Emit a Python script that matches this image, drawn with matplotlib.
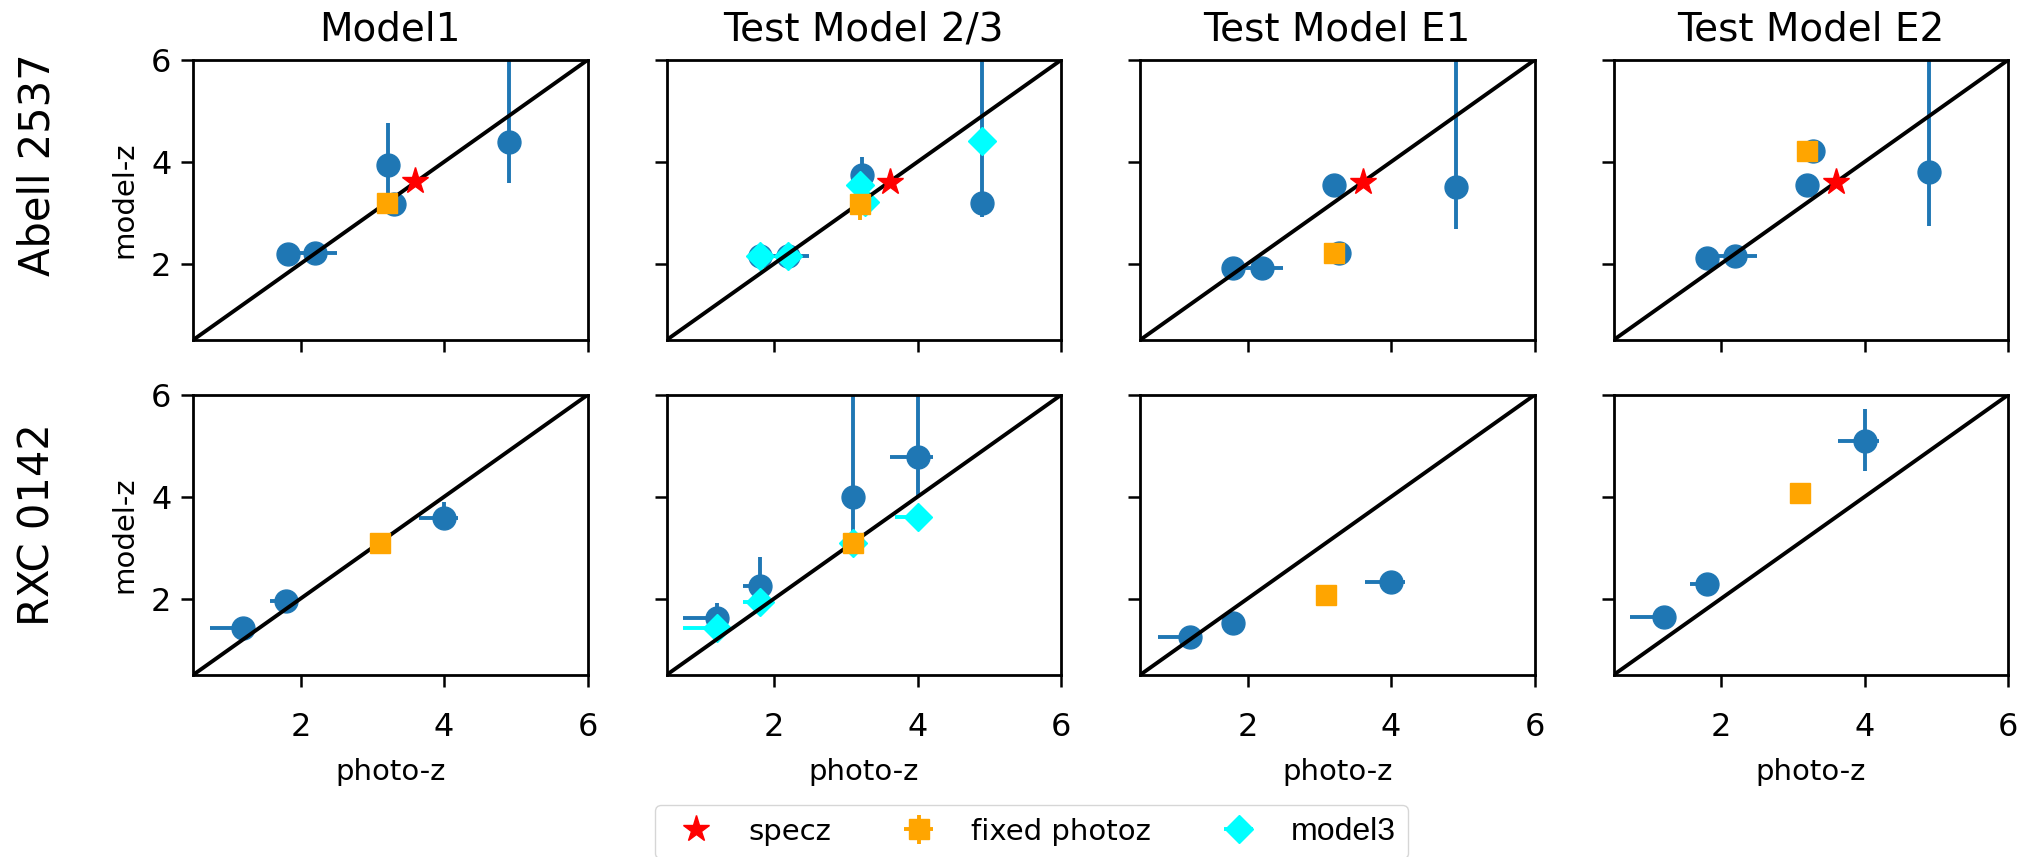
import matplotlib
matplotlib.use("Agg")
import matplotlib.pyplot as plt

models = ["Model1", "Test Model 2/3", "Test Model E1", "Test Model E2"]
clusters = ["Abell 2537", "RXC 0142"]

# puntos azules (photo-z vs model-z) por panel [fila][columna]
blue_x = [
    [[1.82, 2.2, 3.22, 3.3, 4.9], [1.81, 2.2, 3.23, 4.9], [1.79, 2.2, 3.2, 3.28, 4.9], [1.8, 2.2, 3.19, 3.28, 4.9]],
    [[1.2, 1.8, 4.0], [1.2, 1.8, 3.1, 4.0], [1.2, 1.8, 4.0], [1.2, 1.8, 4.0]],
]
blue_y = [
    [[2.18, 2.2, 3.94, 3.18, 4.38], [2.15, 2.15, 3.75, 3.2], [1.91, 1.91, 3.54, 2.2, 3.5], [2.12, 2.16, 3.54, 4.21, 3.8]],
    [[1.43, 1.96, 3.59], [1.61, 2.25, 3.99, 4.78], [1.24, 1.53, 2.32], [1.63, 2.29, 5.1]],
]
blue_xlo = [
    [[0.05, 0.35, 0.0, 0.0, 0.0], [0.05, 0.3, 0.0, 0.0], [0.05, 0.3, 0.0, 0.0, 0.0], [0.05, 0.3, 0.0, 0.0, 0.0]],
    [[0.47, 0.23, 0.35], [0.47, 0.23, 0.0, 0.38], [0.45, 0.05, 0.36], [0.47, 0.24, 0.37]],
]
blue_xhi = [
    [[0.05, 0.3, 0.0, 0.0, 0.0], [0.05, 0.28, 0.0, 0.0], [0.05, 0.29, 0.0, 0.0, 0.0], [0.05, 0.3, 0.0, 0.0, 0.0]],
    [[0.0, 0.0, 0.2], [0.0, 0.0, 0.0, 0.21], [0.0, 0.05, 0.2], [0.0, 0.05, 0.2]],
]
blue_ylo = [
    [[0.0, 0.0, 0.65, 0.05, 0.8], [0.0, 0.0, 0.2, 0.28], [0.0, 0.0, 0.0, 0.0, 0.82], [0.0, 0.0, 0.0, 0.0, 1.07]],
    [[0.0, 0.0, 0.1], [0.1, 0.2, 0.87, 0.78], [0.0, 0.0, 0.0], [0.0, 0.0, 0.6]],
]
blue_yhi = [
    [[0.0, 0.0, 0.82, 0.05, 3.0], [0.0, 0.0, 0.35, 3.0], [0.0, 0.0, 0.0, 0.0, 3.0], [0.0, 0.0, 0.0, 0.0, 3.0]],
    [[0.0, 0.0, 0.3], [0.3, 0.57, 3.0, 3.0], [0.0, 0.0, 0.0], [0.0, 0.0, 0.62]],
]

# photoz fijo (naranja)
fixed_x = [[3.2, 3.19, 3.21, 3.19], [3.1, 3.1, 3.09, 3.1]]
fixed_y = [[3.2, 3.18, 2.2, 4.21], [3.1, 3.1, 2.08, 4.08]]
fixed_ylo = [[0.1, 0.32, 0.1, 0.1], [0.1, 0.1, 0.1, 0.1]]

# specz (solo Abell 2537)
specz_x = [3.6, 3.62, 3.61, 3.6]
specz_y = [3.62, 3.61, 3.61, 3.61]

# model3 (solo Test Model 2/3)
m3_x = [[1.81, 2.2, 3.2, 3.27, 4.9], [1.2, 1.8, 3.1, 4.0]]
m3_y = [[2.15, 2.15, 3.55, 3.22, 4.4], [1.42, 1.94, 3.09, 3.61]]
m3_xlo = [[0.0, 0.0, 0.0, 0.0, 0.0], [0.47, 0.23, 0.05, 0.31]]

ticks = [2, 4, 6]
zmin, zmax = 0.5, 6.0

fig, axes = plt.subplots(2, 4, figsize=(20.19, 8.57), dpi=100, sharex=True, sharey=True)
fig.subplots_adjust(left=0.0956, right=0.9946, top=0.930, bottom=0.2124, wspace=0.2, hspace=0.196)

h_star = h_fixed = h_m3 = None
for r in range(2):
    for c in range(4):
        ax = axes[r, c]
        ax.errorbar(blue_x[r][c], blue_y[r][c],
                    xerr=[blue_xlo[r][c], blue_xhi[r][c]],
                    yerr=[blue_ylo[r][c], blue_yhi[r][c]],
                    fmt='o', color='C0', ms=16.5, elinewidth=2.8, capsize=0, zorder=2)
        if c == 1:
            h_m3 = ax.errorbar(m3_x[r], m3_y[r], xerr=[m3_xlo[r], [0] * len(m3_x[r])],
                               fmt='D', color='cyan', ms=14, elinewidth=2.8, capsize=0, zorder=3)
        ax.plot([zmin, zmax], [zmin, zmax], color='black', lw=2.8, zorder=4)
        h_fixed = ax.errorbar([fixed_x[r][c]], [fixed_y[r][c]], xerr=0.08,
                              yerr=[[fixed_ylo[r][c]], [0.08]],
                              fmt='s', color='orange', ms=14.5, elinewidth=2.8, capsize=0, zorder=5)
        if r == 0:
            h_star, = ax.plot([specz_x[c]], [specz_y[c]], ls='none', marker='*',
                              color='red', ms=20, zorder=6)

        ax.set_xlim(zmin, zmax)
        ax.set_ylim(zmin, zmax)
        ax.set_xticks(ticks)
        ax.set_yticks(ticks)
        ax.tick_params(labelsize=23, length=8.6, width=1.8)
        ax.tick_params(axis='x', pad=18)
        ax.tick_params(axis='y', pad=7)
        for s in ax.spines.values():
            s.set_linewidth(2.0)
        if r == 0:
            ax.set_title(models[c], fontsize=28, pad=14)
        if r == 1:
            ax.set_xlabel("photo-z", fontsize=21, labelpad=11)
        if c == 0:
            ax.set_ylabel("model-z", fontsize=21, labelpad=9)

fig.text(38 / 2019, 1 - 165 / 857, clusters[0], rotation=90, ha='center', va='center', fontsize=30)
fig.text(38 / 2019, 1 - 525 / 857, clusters[1], rotation=90, ha='center', va='center', fontsize=30)

leg = fig.legend([h_star, h_fixed, h_m3], ["specz", "fixed photoz", "model3"],
                 loc='upper left', bbox_to_anchor=(655 / 2019, 1 - 805 / 857),
                 borderaxespad=0, ncol=3, fontsize=21)
leg.get_texts()[2].set_family('Liberation Sans')
leg.get_texts()[2].set_fontsize(23)

fig.savefig("out.png", dpi=100)
